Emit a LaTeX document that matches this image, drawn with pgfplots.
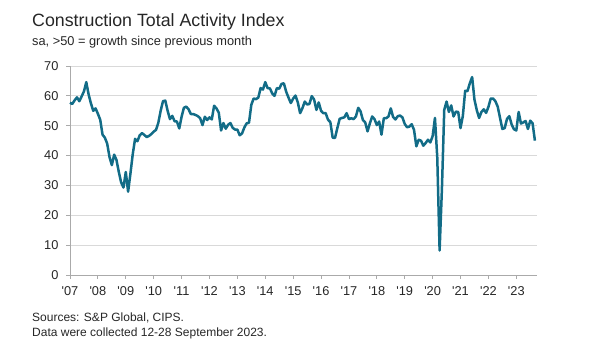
\documentclass[border=0pt]{standalone}
\usepackage{fontspec}
\setmainfont{Liberation Sans}
\usepackage{pgfplots}
\usepackage{pgfplotstable}
\pgfplotsset{compat=1.18}
\definecolor{lineteal}{RGB}{18,108,135}
\definecolor{gridgray}{RGB}{217,217,217}
\definecolor{axgray}{RGB}{170,170,170}
\definecolor{txt}{RGB}{38,38,38}

\pgfplotstableread{
v
57.7
57.3
58.5
59.5
58.2
59.8
61.5
64.6
60.5
57.5
55.0
55.8
54.0
52.0
47.0
46.0
44.0
39.5
36.8
40.3
38.5
34.5
31.0
29.3
34.5
27.9
34.0
40.5
45.6
44.8
46.8
47.5
46.9
46.2
46.6
47.2
48.0
48.6
51.0
55.0
58.2
58.4
55.0
52.2
53.3
51.5
51.4
49.1
53.0
56.0
56.4
55.5
53.9
53.9
53.6
53.2
52.5
50.2
53.0
51.9
52.8
52.1
56.7
55.8
54.4
48.4
50.9
49.0
50.3
50.9
49.3
48.7
48.7
46.8
47.4
49.4
50.8
51.0
57.0
59.1
58.9
59.4
62.6
62.1
64.6
62.6
62.5
60.8
60.0
62.6
62.4
64.0
64.2
61.4
59.4
57.6
59.1
60.1
57.8
54.2
55.9
58.1
57.1
57.3
59.9
58.8
55.3
57.8
55.0
54.2
54.2
52.0
51.2
46.0
45.9
49.2
52.3
52.6
52.8
54.2
52.2
52.5
52.2
53.1
56.0
54.8
51.9
51.1
48.1
50.8
53.1
52.2
50.2
51.4
47.0
52.5
52.5
53.1
55.8
52.9
52.1
53.2
53.4
52.8
50.6
49.5
49.7
50.5
48.6
43.1
45.3
45.0
43.3
44.2
45.3
44.4
46.5
52.6
39.3
8.2
28.9
55.3
58.1
54.6
56.8
53.1
54.7
54.6
49.2
53.3
61.7
61.6
64.2
66.3
58.7
55.2
52.6
54.6
55.5
54.3
56.3
59.1
59.1
58.2
56.4
52.6
48.9
49.2
52.3
53.2
50.4
48.8
48.4
54.6
50.7
51.1
51.6
48.9
51.7
50.8
45.0
}\pmidata

\begin{document}
\begin{tikzpicture}
\useasboundingbox (0pt,0pt) rectangle (589pt,356pt);
\node[anchor=base west, inner sep=0pt, text=txt, font=\fontsize{17.8}{20}\selectfont] at (32pt,329.3pt) {Construction Total Activity Index};
\node[anchor=base west, inner sep=0pt, text=txt, font=\fontsize{12.8}{15}\selectfont] at (32pt,310.3pt) {sa, >50 = growth since previous month};
\node[anchor=base west, inner sep=0pt, text=txt, font=\fontsize{12}{14}\selectfont] at (32pt,34pt) {Sources: S\&P Global, CIPS.};
\node[anchor=base west, inner sep=0pt, text=txt, font=\fontsize{12}{14}\selectfont] at (32pt,19pt) {Data were collected 12-28 September 2023.};
\begin{axis}[
  at={(70pt,81pt)}, anchor=south west,
  scale only axis, width=467pt, height=209pt,
  xmin=0, xmax=200.9, ymin=0, ymax=70,
  axis lines=left, axis line style={-, axgray, line width=0.8pt},
  xtick={0,12,...,192},
  xticklabels={\textquotesingle07,\textquotesingle08,\textquotesingle09,\textquotesingle10,\textquotesingle11,\textquotesingle12,\textquotesingle13,\textquotesingle14,\textquotesingle15,\textquotesingle16,\textquotesingle17,\textquotesingle18,\textquotesingle19,\textquotesingle20,\textquotesingle21,\textquotesingle22,\textquotesingle23},
  ytick={0,10,...,70},
  tick align=outside, major tick length=4pt,
  tick style={axgray, line width=0.8pt},
  ymajorgrids, major grid style={gridgray, line width=0.8pt},
  ticklabel style={font=\fontsize{12.8}{14}\selectfont, text=txt},
  xticklabel style={yshift=-4pt},
  yticklabel style={xshift=-4pt},
  /pgf/number format/assume math mode=true,
  clip=false,
]
\addplot[lineteal, line width=2.5pt, line join=round, no markers] table[x expr=\coordindex, y=v] {\pmidata};
\end{axis}
\end{tikzpicture}
\end{document}
